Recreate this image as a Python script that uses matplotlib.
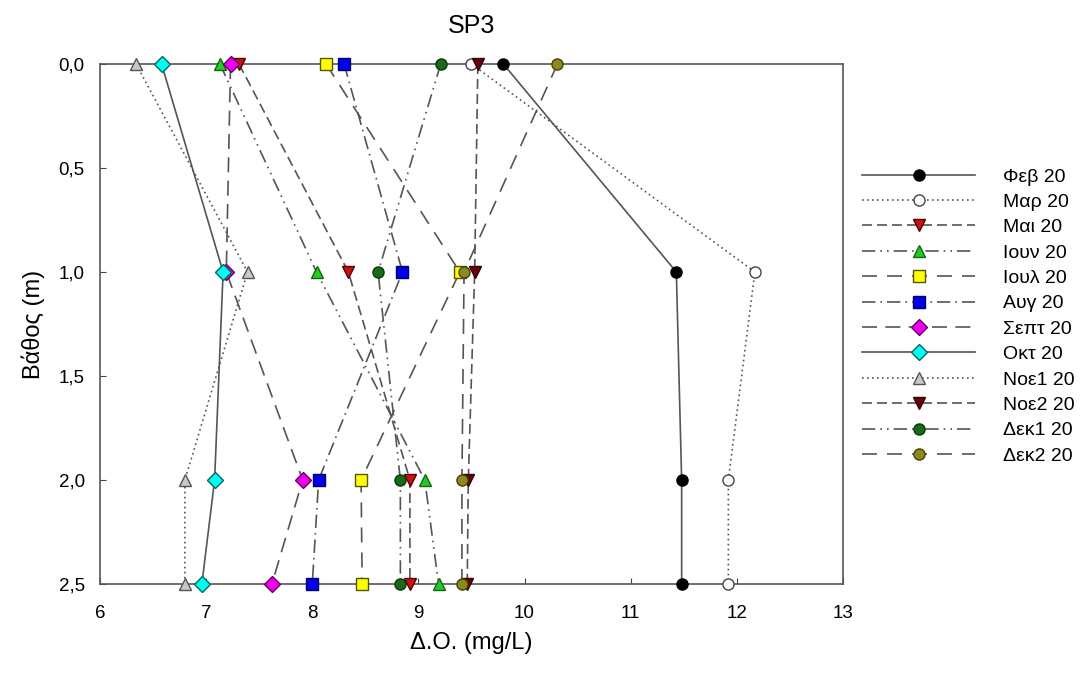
import matplotlib
matplotlib.use('Agg')
from matplotlib import pyplot as plt
from matplotlib.ticker import FuncFormatter

plt.rcParams['font.family'] = ['Liberation Sans', 'DejaVu Sans']

depth = [0.0, 1.0, 2.0, 2.5]  # m

labels = ['Φεβ 20', 'Μαρ 20', 'Μαι 20', 'Ιουν 20', 'Ιουλ 20', 'Αυγ 20',
          'Σεπτ 20', 'Οκτ 20', 'Νοε1 20', 'Νοε2 20', 'Δεκ1 20', 'Δεκ2 20']

# dissolved oxygen (mg/L) at each depth
feb = [9.80, 11.43, 11.48, 11.48]
mar = [9.50, 12.17, 11.92, 11.92]
mai = [7.31, 8.34, 8.92, 8.92]
iun = [7.13, 8.04, 9.06, 9.19]
iul = [8.13, 9.39, 8.46, 8.47]
aug = [8.30, 8.85, 8.06, 8.00]
sep = [7.23, 7.19, 7.91, 7.62]
okt = [6.58, 7.16, 7.08, 6.96]
noe1 = [6.34, 7.39, 6.80, 6.80]
noe2 = [9.56, 9.53, 9.47, 9.46]
dek1 = [9.21, 8.62, 8.83, 8.83]
dek2 = [10.31, 9.43, 9.41, 9.41]

series = [feb, mar, mai, iun, iul, aug, sep, okt, noe1, noe2, dek1, dek2]

markers = ['o', 'o', 'v', '^', 's', 's', 'D', 'D', '^', 'v', 'o', 'o']
faces = ['black', 'white', '#cc1111', '#22cc22', '#ffff00', '#0000ee',
         '#ee00ee', '#00ffee', '#c8c8c8', '#6a0010', '#1a6a1a', '#8a8a20']
styles = ['-', (0, (1, 2)), (0, (6, 3)), (0, (8, 3, 1, 3, 1, 3)),
          (0, (9, 6)), (0, (8, 3, 1, 3)), (0, (9, 5)), '-', (0, (1, 2)),
          (0, (6, 3)), (0, (8, 3, 1, 3, 1, 3)), (0, (9, 6))]
edges = ['black', '#444444', '#550000', '#116611', '#555500', '#000066',
         '#660066', '#006666', '#555555', '#330000', '#0a3a0a', '#444400']

fig = plt.figure(figsize=(10.82, 6.77), dpi=100)
ax = fig.add_axes([0.0924, 0.1374, 0.6867, 0.7681])

for vals, lab, m, fc, ls, ec in zip(series, labels, markers, faces, styles, edges):
    ms = 8 if m in ('D', 'o', 's') else 9
    ax.plot(vals, depth, linestyle=ls, color='#555555', linewidth=1.2,
            marker=m, markersize=ms, markerfacecolor=fc, markeredgecolor=ec,
            markeredgewidth=1.0, label=lab, clip_on=False, zorder=3)

ax.set_xlim(6, 13)
ax.set_ylim(2.5, 0.0)
ax.set_xticks(range(6, 14))
ax.set_yticks([0.0, 0.5, 1.0, 1.5, 2.0, 2.5])
ax.yaxis.set_major_formatter(FuncFormatter(lambda v, p: ('%.1f' % v).replace('.', ',')))
ax.tick_params(direction='in', length=4, labelsize=13.5, color='#444444')
ax.tick_params(axis='x', pad=15)
ax.tick_params(axis='y', pad=11)
for s in ax.spines.values():
    s.set_color('#555555')
    s.set_linewidth(1.2)

ax.set_title('SP3', fontsize=18, pad=22)
ax.set_xlabel('Δ.Ο. (mg/L)', fontsize=17, labelpad=7)
ax.set_ylabel('Βάθος (m)', fontsize=17, labelpad=10)

fig.legend(loc='upper left', bbox_to_anchor=(0.797, 0.752), frameon=False,
           fontsize=14, handlelength=5.8, handletextpad=1.45, labelspacing=0.4,
           borderpad=0, borderaxespad=0)

fig.savefig('out.png', dpi=100)
